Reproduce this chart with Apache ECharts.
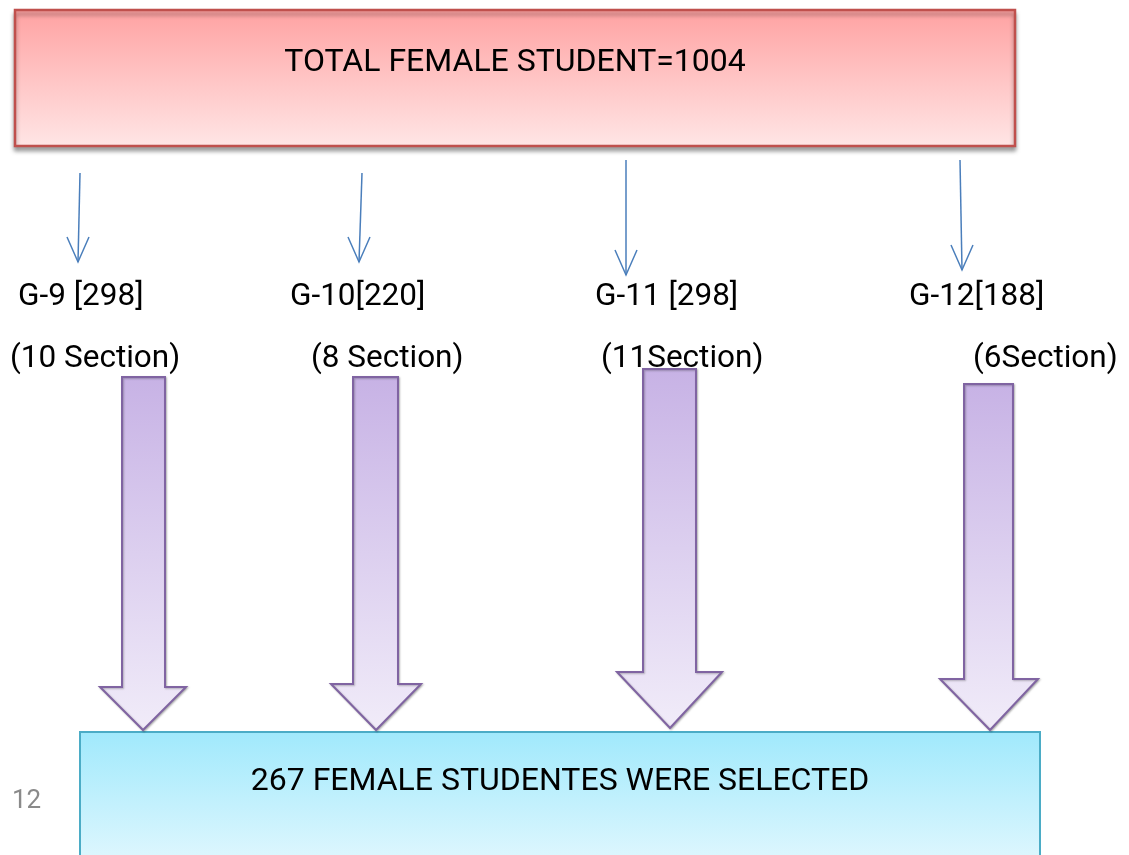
<!DOCTYPE html>
<html>
<head>
<meta charset="utf-8">
<script src="https://cdn.jsdelivr.net/npm/echarts@6/dist/echarts.min.js"></script>
<style>
html,body{margin:0;padding:0;background:#fff;}
#c{width:1129px;height:855px;}
</style>
</head>
<body>
<div id="c"></div>
<script>
// ---- data ----
const totalFemale = 1004;
const selectedFemale = 267;
const grades = ['G-9', 'G-10', 'G-11', 'G-12'];
const students = [298, 220, 298, 188];
const sections = [10, 8, 11, 6];
const gradeSep = [' ', '', ' ', ''];
const sectionSep = [' ', ' ', '', ''];
const pageNumber = '12';

// ---- layout (pixels) ----
const thinArrows = [
  {x1: 80, y1: 173, x2: 78, y2: 262},
  {x1: 362, y1: 173, x2: 359, y2: 262},
  {x1: 626, y1: 160, x2: 626, y2: 275},
  {x1: 960, y1: 160, x2: 962, y2: 270}
];
const gradeLabelX = [18, 290, 595, 909];
const sectionLabelX = [10, 311, 601, 973];
const bigArrows = [
  {l: 122, r: 165, top: 377, headY: 687, hl: 100, hr: 186, tipX: 143, tipY: 730},
  {l: 353, r: 398, top: 377, headY: 684, hl: 331, hr: 421, tipX: 376, tipY: 730},
  {l: 643, r: 696, top: 369, headY: 672, hl: 617, hr: 722, tipX: 670, tipY: 728},
  {l: 964, r: 1013, top: 384, headY: 679, hl: 940, hr: 1038, tipX: 990, tipY: 730}
];

const FONT = 'Roboto, "Noto Sans", sans-serif';
const chart = echarts.init(document.getElementById('c'), null, {renderer: 'canvas'});
const els = [];

// top box
els.push({
  type: 'rect', z: 1,
  shape: {x: 15, y: 10, width: 1000, height: 136},
  style: {
    fill: new echarts.graphic.LinearGradient(0, 0, 0, 1, [
      {offset: 0, color: '#ffa2a2'}, {offset: 1, color: '#ffe6e6'}
    ]),
    stroke: '#c0504d', lineWidth: 2.5,
    shadowBlur: 4, shadowOffsetY: 4, shadowColor: 'rgba(0,0,0,0.35)'
  }
});
els.push({
  type: 'text', z: 5, x: 515, y: 63,
  style: {text: 'TOTAL FEMALE STUDENT=' + totalFemale, font: '32px ' + FONT, fill: '#000',
    textAlign: 'center', textVerticalAlign: 'middle', align: 'center', verticalAlign: 'middle'}
});

// thin arrows + labels
grades.forEach(function (g, i) {
  const a = thinArrows[i];
  els.push({type: 'line', z: 3, shape: {x1: a.x1, y1: a.y1, x2: a.x2, y2: a.y2},
    style: {stroke: '#4a7ebb', lineWidth: 1.5}});
  els.push({type: 'polyline', z: 3,
    shape: {points: [[a.x2 - 11, a.y2 - 25], [a.x2, a.y2], [a.x2 + 11, a.y2 - 25]]},
    style: {stroke: '#4a7ebb', lineWidth: 1.5, fill: null}});
  els.push({type: 'text', z: 5, x: gradeLabelX[i], y: 297,
    style: {text: g + gradeSep[i] + '[' + students[i] + ']', font: '31.5px ' + FONT, fill: '#000',
      textAlign: 'left', textVerticalAlign: 'middle', align: 'left', verticalAlign: 'middle'}});
  els.push({type: 'text', z: 2, x: sectionLabelX[i], y: 359,
    style: {text: '(' + sections[i] + sectionSep[i] + 'Section)', font: '31.5px ' + FONT, fill: '#000',
      textAlign: 'left', textVerticalAlign: 'middle', align: 'left', verticalAlign: 'middle'}});
});

// big purple arrows
bigArrows.forEach(function (b) {
  els.push({
    type: 'polygon', z: 4,
    shape: {points: [[b.l, b.top], [b.r, b.top], [b.r, b.headY], [b.hr, b.headY], [b.tipX, b.tipY],
      [b.hl, b.headY], [b.l, b.headY]]},
    style: {
      fill: new echarts.graphic.LinearGradient(0, 0, 0, 1, [
        {offset: 0, color: '#c7b2e5'}, {offset: 1, color: '#f1ecf9'}
      ]),
      stroke: '#8064a2', lineWidth: 2,
      shadowBlur: 2, shadowOffsetX: 1, shadowOffsetY: 1, shadowColor: 'rgba(0,0,0,0.25)'
    }
  });
});

// bottom box
els.push({
  type: 'rect', z: 3,
  shape: {x: 80, y: 732, width: 960, height: 140},
  style: {
    fill: new echarts.graphic.LinearGradient(0, 0, 0, 1, [
      {offset: 0, color: '#a0e9fc'}, {offset: 1, color: '#e4f8fe'}
    ]),
    stroke: '#4bacc6', lineWidth: 2
  }
});
els.push({
  type: 'text', z: 5, x: 560, y: 782,
  style: {text: selectedFemale + ' FEMALE STUDENTES WERE SELECTED', font: '32px ' + FONT, fill: '#000',
    textAlign: 'center', textVerticalAlign: 'middle', align: 'center', verticalAlign: 'middle'}
});
els.push({
  type: 'text', z: 5, x: 12, y: 801,
  style: {text: pageNumber, font: '26px ' + FONT, fill: '#8a8a8a',
    textAlign: 'left', textVerticalAlign: 'middle', align: 'left', verticalAlign: 'middle'}
});

chart.setOption({
  backgroundColor: '#ffffff',
  animation: false,
  graphic: {elements: els}
});
</script>
</body>
</html>
